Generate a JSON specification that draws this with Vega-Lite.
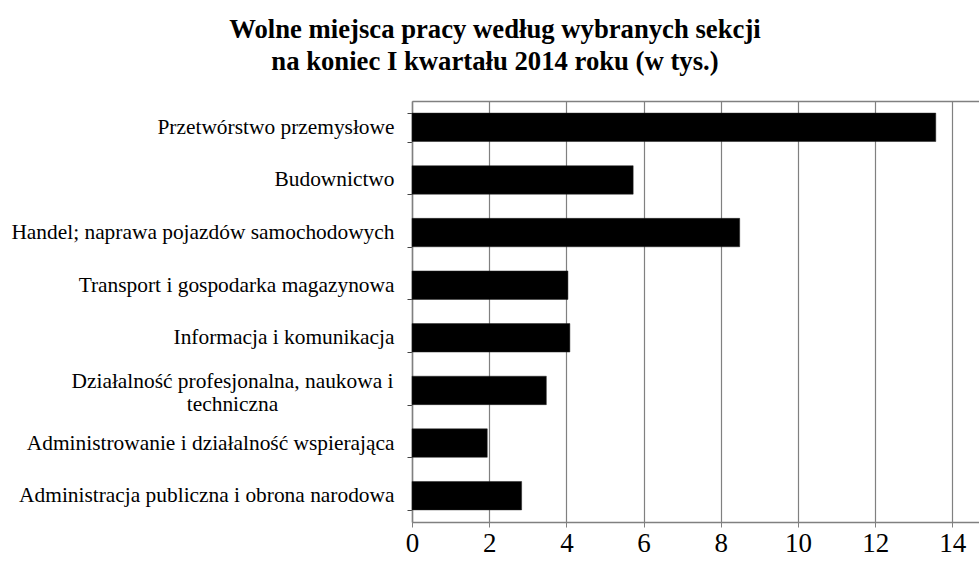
{
  "$schema": "https://vega.github.io/schema/vega-lite/v6.json",
  "width": 567,
  "height": 421,
  "autosize": {"type": "none"},
  "padding": {"left": 412, "top": 101, "right": 0, "bottom": 42},
  "background": "white",
  "title": {
    "text": ["Wolne miejsca pracy według wybranych sekcji", "na koniec I kwartału 2014 roku (w tys.)"],
    "font": "Liberation Serif",
    "fontSize": 26.7,
    "fontWeight": "bold",
    "color": "black",
    "anchor": "middle",
    "frame": "bounds",
    "offset": 14,
    "lineHeight": 32
  },
  "config": {"view": {"stroke": null}, "font": "Liberation Serif"},
  "data": {
    "values": [
      {"sekcja": "Przetwórstwo przemysłowe\u00a0", "wartosc": 13.57},
      {"sekcja": "Budownictwo", "wartosc": 5.73},
      {"sekcja": "Handel; naprawa pojazdów samochodowych", "wartosc": 8.49},
      {"sekcja": "Transport i gospodarka magazynowa", "wartosc": 4.04},
      {"sekcja": "Informacja i komunikacja", "wartosc": 4.09},
      {"sekcja": "Działalność profesjonalna, naukowa i techniczna", "wartosc": 3.48},
      {"sekcja": "Administrowanie i działalność wspierająca", "wartosc": 1.95},
      {"sekcja": "Administracja publiczna i obrona narodowa", "wartosc": 2.84}
    ]
  },
  "layer": [
    {
      "mark": {"type": "bar", "color": "black", "stroke": "#222", "strokeWidth": 0.5},
      "encoding": {
        "y": {
          "field": "sekcja",
          "type": "nominal",
          "sort": null,
          "scale": {"paddingInner": 0.46, "paddingOuter": 0.23},
          "axis": {
            "title": null,
            "labelFont": "Liberation Serif",
            "labelFontSize": 21.4,
            "labelColor": "black",
            "labelPadding": {"condition": {"test": "datum.value == 'Działalność profesjonalna, naukowa i techniczna'", "value": 175}, "value": 13},
            "labelAlign": {"condition": {"test": "datum.value == 'Działalność profesjonalna, naukowa i techniczna'", "value": "center"}, "value": "right"},
            "labelLimit": 0,
            "labelLineHeight": 23,
            "labelOffset": {"condition": {"test": "datum.value == 'Działalność profesjonalna, naukowa i techniczna'", "value": -9}, "value": 0},
            "tickBand": "extent",
            "tickSize": 5,
            "tickColor": "#444",
            "domainColor": "#808080",
            "domainWidth": 1.5,
            "labelExpr": "datum.value == 'Działalność profesjonalna, naukowa i techniczna' ? ['Działalność profesjonalna, naukowa i', 'techniczna'] : datum.value"
          }
        },
        "x": {
          "field": "wartosc",
          "type": "quantitative",
          "scale": {"domain": [0, 14.69], "nice": false, "zero": true},
          "axis": {
            "title": null,
            "values": [0, 2, 4, 6, 8, 10, 12, 14],
            "grid": true,
            "gridColor": "#808080",
            "gridWidth": 1.2,
            "domainColor": "#808080",
            "domainWidth": 1.5,
            "tickColor": "#808080",
            "tickSize": 5,
            "labelFont": "Liberation Serif",
            "labelFontSize": 27,
            "labelColor": "black",
            "labelPadding": 3,
            "labelFlush": false
          }
        }
      }
    },
    {
      "mark": {"type": "rule", "opacity": 0},
      "encoding": {
        "x": {
          "field": "wartosc",
          "type": "quantitative",
          "axis": {
            "orient": "top",
            "title": null,
            "labels": false,
            "ticks": false,
            "grid": false,
            "domain": true,
            "domainColor": "#808080",
            "domainWidth": 1.5
          }
        }
      }
    }
  ],
  "resolve": {"axis": {"x": "independent"}}
}
